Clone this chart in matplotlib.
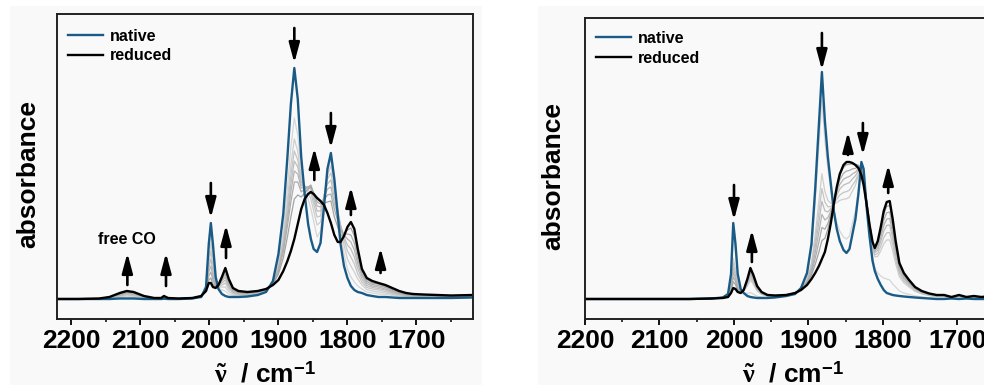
import matplotlib
matplotlib.use('Agg')
import matplotlib.pyplot as plt
from matplotlib.patches import Rectangle
from matplotlib.ticker import MultipleLocator

plt.rcParams['font.family'] = ['Liberation Sans', 'DejaVu Sans']
plt.rcParams['font.weight'] = 'bold'
plt.rcParams['axes.labelweight'] = 'bold'
plt.rcParams['mathtext.fontset'] = 'custom'
plt.rcParams['mathtext.rm'] = 'Liberation Serif'
plt.rcParams['mathtext.it'] = 'Liberation Serif'
plt.rcParams['mathtext.bf'] = 'Liberation Sans:bold'

BG = '#f9f9f9'
BLUE = '#195b86'

# ---- left panel: wavenumber grid and absorbance (arb. units) ----
L_NU = [2221, 2190, 2160, 2145, 2130, 2120, 2110, 2095, 2080, 2070,
        2066, 2060, 2045, 2025, 2012, 2005, 2001, 1998, 1995, 1991,
        1987, 1982, 1977, 1972, 1966, 1958, 1945, 1930, 1918, 1908,
        1900, 1893, 1887, 1882, 1877, 1872, 1867, 1862, 1857, 1853,
        1849, 1844, 1839, 1834, 1829, 1824, 1819, 1814, 1810, 1805,
        1800, 1795, 1790, 1785, 1779, 1772, 1764, 1755, 1745, 1735,
        1725, 1715, 1705, 1690, 1670, 1650, 1618]
L_NATIVE = [0, 0, 0, 0, 0.5, 0.5, 0.5, 0, 0, 0,
            0.3, 0, 0, 0.5, 2, 12, 55, 76, 55, 22,
            10, 5, 3, 2, 2, 2, 2.5, 4, 7, 18,
            45, 85, 142, 195, 231, 200, 142, 105, 75, 60,
            50, 47, 56, 92, 130, 146, 120, 84, 55, 33,
            21, 13, 9, 7, 6, 4, 3, 2, 2, 1.5,
            1, 1, 1, 1, 1, 1, 1.5]
L_REDUCED = [0, 0, 0.5, 2, 6, 8, 7, 3, 1, 1,
             3, 1, 0.5, 1, 3, 8, 16, 16, 12, 11,
             14, 22, 31, 20, 11, 8, 7, 8, 10, 14,
             19, 28, 38, 48, 60, 75, 90, 100, 105, 107,
             105, 101, 98, 94, 86, 76, 64, 57, 57, 63,
             72, 77, 70, 50, 30, 21, 18, 16, 14, 11,
             8, 6, 5, 4.5, 4, 3.5, 4]
L_GREY = [
    [0, 0, 0.1, 0.5, 1.5, 2, 1.8, 0.8, 0.3, 0.3,
     0.8, 0.3, 0.1, 0.6, 2.2, 11, 48, 66, 48, 20,
     11, 9, 8, 5, 3.5, 3, 3.2, 4.7, 7.5, 17,
     37, 68, 112, 152, 181, 164, 127, 110, 100, 90,
     78, 62, 68, 100, 128, 140, 118, 88, 66, 45,
     30, 22, 17, 13, 10, 7, 6, 5, 4.5, 3.5,
     2.5, 2, 1.8, 1.6, 1.5, 1.4, 2],
    [0, 0, 0.2, 0.8, 2.4, 3, 2.7, 1.2, 0.4, 0.4,
     1.2, 0.4, 0.2, 0.7, 2.4, 10.5, 41, 56, 40, 18,
     12, 12, 12, 7.5, 5, 4, 3.8, 5.3, 8, 16.5,
     34, 61, 99, 134, 160, 148, 120, 112, 106, 100,
     88, 74, 77, 102, 124, 133, 113, 89, 72, 54,
     40, 33, 27, 20, 14, 9.5, 8, 7, 6, 4.5,
     3.2, 2.5, 2.2, 2, 1.9, 1.7, 2.3],
    [0, 0, 0.2, 1, 3, 4, 3.5, 1.5, 0.5, 0.5,
     1.5, 0.5, 0.2, 0.7, 2.5, 10, 36, 48, 34, 16,
     12, 14, 16, 10, 6, 4.5, 4.3, 5.8, 8.4, 16,
     32, 57, 92, 124, 148, 139, 117, 113, 109, 106,
     95, 82, 83, 103, 120, 126, 108, 88, 74, 59,
     48, 42, 35, 25, 17, 11.5, 10, 9, 7.5, 5.5,
     4, 3, 2.6, 2.4, 2.2, 2, 2.6],
    [0, 0, 0.3, 1.2, 3.5, 5, 4.3, 1.9, 0.6, 0.6,
     1.9, 0.6, 0.3, 0.8, 2.6, 9.7, 31, 40, 28, 15,
     13, 16, 19, 12, 7, 5, 4.8, 6.3, 8.8, 15.5,
     31, 54, 85, 115, 138, 132, 114, 113, 111, 110,
     100, 88, 88, 103, 115, 119, 102, 86, 74, 62,
     54, 50, 42, 30, 20, 13.5, 11.5, 10.5, 9, 6.5,
     4.8, 3.5, 3, 2.8, 2.6, 2.3, 2.9],
    [0, 0, 0.3, 1.4, 4, 6, 5, 2.2, 0.7, 0.7,
     2.2, 0.7, 0.3, 0.8, 2.7, 9.3, 27, 33, 23, 14,
     13, 18, 22, 14, 8, 6, 5.3, 6.8, 9.2, 15,
     29, 51, 79, 107, 128, 125, 111, 112, 112, 113,
     104, 93, 92, 101, 110, 112, 96, 83, 72, 64,
     60, 57, 49, 35, 23, 15.5, 13, 12, 10, 7.5,
     5.5, 4, 3.4, 3.2, 2.9, 2.6, 3.2],
    [0, 0, 0.4, 1.6, 4.6, 6.5, 5.7, 2.5, 0.8, 0.8,
     2.5, 0.8, 0.4, 0.9, 2.8, 9, 23, 27, 19, 13,
     13.5, 19.5, 25, 16, 9, 6.5, 5.8, 7.3, 9.5, 14.8,
     28, 47, 73, 97, 117, 117, 107, 110, 112, 114,
     106, 97, 95, 99, 104, 105, 90, 78, 68, 65,
     65, 64, 56, 40, 25, 17.5, 14.5, 13.5, 11.5, 8.5,
     6.3, 4.5, 3.8, 3.6, 3.3, 2.9, 3.5],
    [0, 0, 0.4, 1.8, 5.3, 7.2, 6.3, 2.8, 0.9, 0.9,
     2.8, 0.9, 0.4, 0.9, 2.9, 8.5, 19, 21, 15, 12,
     14, 21, 28, 18, 10, 7, 6.3, 7.7, 9.8, 14.4,
     25, 41, 62, 82, 100, 104, 102, 106, 110, 112,
     106, 100, 97, 96, 97, 98, 82, 72, 63, 65,
     69, 71, 63, 45, 28, 19.5, 16, 15, 12.5, 9.5,
     7, 5.2, 4.3, 4, 3.6, 3.2, 3.8],
]

# ---- right panel ----
R_NU = [2200, 2150, 2100, 2060, 2030, 2015, 2008, 2004, 2001, 1998,
        1995, 1991, 1987, 1982, 1978, 1974, 1969, 1963, 1955, 1945,
        1930, 1918, 1910, 1902, 1896, 1891, 1886, 1882, 1878, 1874,
        1870, 1866, 1862, 1858, 1853, 1849, 1845, 1841, 1837, 1833,
        1829, 1826, 1822, 1818, 1814, 1811, 1807, 1803, 1799, 1795,
        1791, 1787, 1783, 1778, 1772, 1765, 1757, 1748, 1738, 1728,
        1718, 1708, 1698, 1688, 1678, 1668, 1655, 1642]
R_NATIVE = [0, 0, 0, 0, 0.5, 1.5, 5, 25, 76, 55,
            25, 10, 6, 3, 2, 1.5, 1, 1, 1, 1.5,
            3, 5, 11, 26, 55, 110, 175, 227, 178, 142,
            115, 88, 70, 58, 49, 46, 50, 65, 80, 105,
            137, 130, 92, 62, 38, 28, 20, 14, 9, 6,
            5, 4, 3.5, 3, 2.5, 2, 1.5, 1, 0.5, 0,
            0, 0.5, 0, 0.5, 0, 0, 0, 0]
R_REDUCED = [0, 0, 0, 0, 0.5, 1, 2, 6, 11, 10,
             7, 6, 9, 20, 31, 24, 13, 7, 4, 3.5,
             4, 6, 9, 14, 20, 26, 33, 40, 47, 60,
             76, 95, 112, 125, 134, 137, 137, 136, 134, 131,
             124, 114, 95, 74, 57, 51, 58, 72, 88, 97,
             98, 80, 58, 36, 26, 19, 12, 8, 5.5, 4,
             4, 2, 4, 2, 3, 2, 3, 2]
R_GREY = [
    [0, 0, 0, 0, 0.5, 1.4, 4.6, 22, 66, 48,
     22, 9.4, 6.5, 5.6, 6.3, 4.9, 2.8, 1.9, 1.5, 1.8,
     3.2, 5.2, 10.7, 24, 50, 97, 154, 199, 158, 130,
     109, 89, 76, 68, 62, 60, 63, 76, 88, 109,
     135, 128, 92, 64, 41, 31, 26, 23, 21, 20,
     19, 15, 12, 8, 6, 4.6, 3.1, 2.1, 1.2, 0.6,
     0.6, 0.7, 0.6, 0.7, 0.5, 0.3, 0.5, 0.3],
    [0, 0, 0, 0, 0.5, 1.3, 3.4, 14.7, 40.6, 30.6,
     15.3, 8, 7.9, 13, 18.9, 14.6, 8, 4.5, 2.8, 2.7,
     3.7, 5.7, 10.2, 19.8, 36.4, 64.6, 97.9, 125.3, 107.4, 98.7,
     95.8, 94.7, 96.5, 98.6, 99.8, 100.2, 102, 108.1, 113.7, 123.2,
     133.6, 124.6, 96.5, 70.8, 50.2, 42.2, 42.6, 48.1, 55.1, 59,
     59.1, 48.2, 35.2, 22.2, 16.2, 11.9, 7.6, 5.1, 3.4, 2.3,
     2.3, 1.4, 2.3, 1.4, 1.7, 1.2, 1.7, 1.2],
    [0, 0, 0, 0, 0.5, 1.2, 3.2, 13.2, 35.4, 27,
     13.9, 7.7, 8.2, 14.3, 21.2, 16.4, 9, 5, 3, 2.9,
     3.7, 5.8, 10, 18.9, 33.6, 57.9, 86.5, 110.4, 96.9, 92.1,
     92.7, 95.3, 99.8, 104, 106.6, 107.4, 108.9, 113.8, 118, 125.3,
     132.5, 123.3, 96.8, 71.8, 51.7, 44, 45.7, 52.7, 61.4, 66.2,
     66.5, 54.3, 39.6, 24.9, 18.1, 13.3, 8.5, 5.7, 3.8, 2.6,
     2.6, 1.5, 2.6, 1.5, 2, 1.3, 2, 1.3],
    [0, 0, 0, 0, 0.5, 1.2, 3, 12, 30.9, 23.9,
     12.7, 7.4, 8.5, 15.7, 23.5, 18.2, 9.9, 5.5, 3.3, 3,
     3.9, 5.9, 10, 18.2, 31.3, 52.2, 76.9, 97.7, 88.2, 87,
     90.7, 96.7, 103.9, 109.9, 113.9, 115.2, 116.4, 120.1, 123.2, 128.4,
     132.9, 123.4, 97.9, 73.4, 53.6, 46.1, 48.9, 57.5, 67.8, 73.6,
     74, 60.4, 44, 27.5, 20, 14.7, 9.3, 6.2, 4.2, 3,
     3, 1.6, 3, 1.6, 2.2, 1.5, 2.2, 1.5],
    [0, 0, 0, 0, 0.5, 1.2, 2.8, 10.6, 26.4, 20.8,
     11.4, 7.2, 8.7, 16.9, 25.6, 19.8, 10.8, 5.9, 3.5, 3.2,
     3.9, 6, 9.8, 17.3, 28.9, 46.4, 67, 84.6, 79, 81.3,
     88, 97.2, 106.8, 114.6, 119.8, 121.5, 122.5, 125.1, 126.9, 130.3,
     132, 122.2, 98.1, 74.2, 54.9, 47.7, 51.6, 61.5, 73.4, 80,
     80.5, 65.7, 47.8, 29.9, 21.6, 15.8, 10.1, 6.7, 4.6, 3.2,
     3.2, 1.7, 3.2, 1.7, 2.4, 1.6, 2.4, 1.6],
    [0, 0, 0, 0, 0.5, 1.1, 2.6, 9.3, 22, 17.6,
     10.2, 6.9, 8.9, 18.1, 27.6, 21.4, 11.6, 6.3, 3.7, 3.3,
     4, 6.1, 9.7, 16.5, 26.4, 40.5, 57, 71.5, 69.8, 75.5,
     85.3, 97.7, 109.8, 119.3, 125.8, 127.9, 128.6, 130.1, 130.7, 132.1,
     131, 121.1, 98.3, 75, 56.2, 49.4, 54.2, 65.6, 78.9, 86.3,
     87, 71, 51.6, 32.2, 23.3, 17, 10.8, 7.2, 4.9, 3.5,
     3.5, 1.8, 3.5, 1.8, 2.6, 1.8, 2.6, 1.8],
    [0, 0, 0, 0, 0.5, 1.1, 2.4, 8, 17.3, 14.5,
     8.9, 6.6, 9.1, 19.3, 29.6, 22.9, 12.4, 6.7, 3.9, 3.5,
     4.1, 6.2, 9.5, 15.6, 24, 34.6, 47, 58.4, 60.7, 69.8,
     82.6, 98.2, 112.7, 124, 131.7, 134.3, 134.6, 135.1, 134.5, 133.9,
     130.1, 120, 98.5, 75.9, 57.6, 51, 56.9, 69.7, 84.4, 92.7,
     93.5, 76.4, 55.4, 34.5, 24.9, 18.2, 11.5, 7.7, 5.3, 3.8,
     3.8, 1.9, 3.8, 1.9, 2.9, 1.9, 2.9, 1.9],
]

# arrows: (wavenumber, tail height, tip height)
L_ARROWS = [(1877, 271, 236), (1824, 186, 151), (1848, 119, 151),
            (1795, 84, 112), (1752, 26, 51), (1998, 116, 81),
            (1976, 41, 74), (2119, 14, 46), (2063, 13, 46)]
R_ARROWS = [(2000, 114, 79), (1976, 37, 69), (1882, 266, 229),
            (1847, 144, 167), (1827, 176, 144), (1793, 106, 134)]

fig = plt.figure(figsize=(9.84, 3.85), dpi=100)
fig.patch.set_facecolor('white')
for x0, w in [(10, 472), (538, 446)]:
    fig.add_artist(Rectangle((x0 / 984, 0), w / 984, 379 / 385, transform=fig.transFigure,
                             facecolor=BG, edgecolor='none', zorder=-10))

ax1 = fig.add_axes([57 / 984, 66 / 385, 416 / 984, 305 / 385])
ax2 = fig.add_axes([585 / 984, 66 / 385, 416 / 984, 301 / 385])


def draw_panel(ax, nu, native, reduced, greys, xlim, ylim, arrows, leg_y):
    ax.set_facecolor(BG)
    n = len(greys)
    for i, g in enumerate(greys):
        shade = 0.84 - 0.2 * i / (n - 1)
        ax.plot(nu, g, color=str(shade), lw=0.9)
    ax.plot(nu, native, color=BLUE, lw=1.7, label='native')
    ax.plot(nu, reduced, color='black', lw=1.7, label='reduced')
    for x, tail, tip in arrows:
        ax.annotate('', xy=(x, tip), xytext=(x, tail),
                    arrowprops=dict(arrowstyle='-|>,head_length=0.6,head_width=0.16',
                                    color='black', lw=1.9, mutation_scale=20,
                                    shrinkA=0, shrinkB=0))
    ax.set_xlim(*xlim)
    ax.set_ylim(*ylim)
    ax.xaxis.set_major_locator(MultipleLocator(100))
    ax.xaxis.set_minor_locator(MultipleLocator(50))
    ax.tick_params(axis='x', which='major', direction='out', length=4, width=1.3,
                   labelsize=19, pad=3)
    ax.tick_params(axis='x', which='minor', direction='out', length=2.5, width=1.1)
    ax.set_yticks([])
    for s in ax.spines.values():
        s.set_linewidth(1.4)
        s.set_color('#222222')
    ax.set_xlabel(r'$\tilde{\nu}\ \ \mathbf{/\ cm}^{\mathbf{-1}}$', fontsize=19,
                  fontweight='normal', labelpad=6)
    ax.set_ylabel('absorbance', fontsize=19, fontweight='bold')
    ax.yaxis.label.set_va('center')
    ax.legend(loc='upper left', frameon=False, fontsize=11.5, handlelength=2.2,
              handletextpad=0.45, labelspacing=0.3, borderpad=0, borderaxespad=0,
              bbox_to_anchor=(0.026, leg_y))


draw_panel(ax1, L_NU, L_NATIVE, L_REDUCED, L_GREY, (2221, 1618), (-20, 285), L_ARROWS, 0.952)
draw_panel(ax2, R_NU, R_NATIVE, R_REDUCED, R_GREY, (2200, 1641.6), (-20, 281), R_ARROWS, 0.957)
ax1.yaxis.set_label_coords(-0.07, 0.475)
ax2.yaxis.set_label_coords(-0.077, 0.475)
ax1.text(2119, 60, 'free CO', ha='center', va='center', fontsize=11.5, fontweight='bold')

fig.savefig('out.png', dpi=100, facecolor='white')
